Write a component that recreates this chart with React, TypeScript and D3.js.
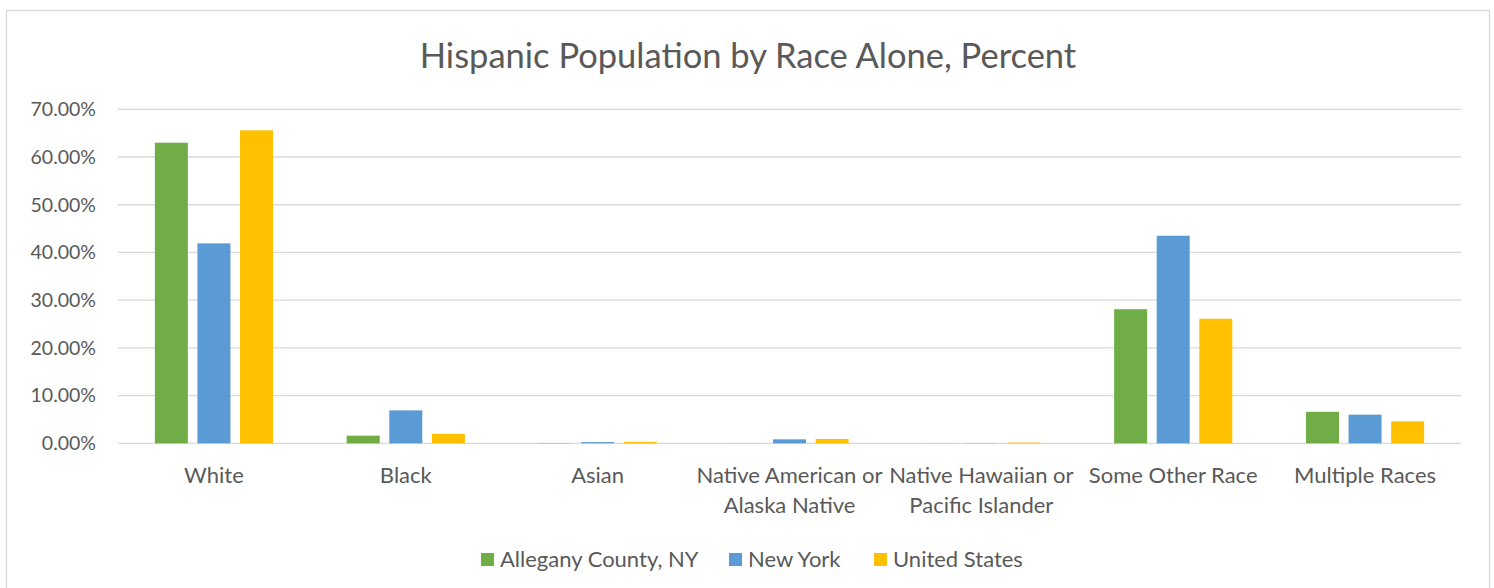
import React from "react";
import * as d3 from "d3";

const categories: string[][] = [
  ["White"],
  ["Black"],
  ["Asian"],
  ["Native American or", "Alaska Native"],
  ["Native Hawaiian or", "Pacific Islander"],
  ["Some Other Race"],
  ["Multiple Races"],
];
const seriesNames = ["Allegany County, NY", "New York", "United States"];
const seriesColors = ["#70AD47", "#5B9BD5", "#FFC000"];
const allegany = [0.63, 0.016, 0.0005, 0.0003, 0.0002, 0.281, 0.066];
const newYork = [0.419, 0.069, 0.0025, 0.0083, 0.0004, 0.435, 0.06];
const unitedStates = [0.656, 0.02, 0.003, 0.009, 0.0015, 0.261, 0.046];
const yTicks = [0, 0.1, 0.2, 0.3, 0.4, 0.5, 0.6, 0.7];
const title = "Hispanic Population by Race Alone, Percent";

const W = 1494;
const H = 588;
const FONT = "Lato, 'Open Sans', sans-serif";
const TXT = "#595959";

export default function App() {
  const values = [allegany, newYork, unitedStates];
  const keys = categories.map((c) => c.join(" "));
  const x = d3.scaleBand<string>().domain(keys).range([118, 1461]).padding(0);
  const xi = d3
    .scaleBand<string>()
    .domain(seriesNames)
    .range([0, x.bandwidth()])
    .paddingInner(0.225)
    .paddingOuter(0.865);
  const y = d3.scaleLinear().domain([0, 0.7]).range([443.3, 109.3]);
  const fmt = d3.format(".2%");
  const legendStarts = [481, 729, 874];

  return (
    <svg
      width={W}
      height={H}
      style={{ position: "absolute", left: 0, top: 0, background: "#fff" }}
      fontFamily={FONT}
    >
      <rect x={0} y={0} width={W} height={H} fill="#fff" />
      <rect x={6.5} y={10.5} width={1483} height={620} fill="none" stroke="#d9d9d9" strokeWidth={1.3} />
      <text x={748} y={67.5} textAnchor="middle" fontSize={34.5} fill={TXT}>
        {title}
      </text>
      {yTicks.map((t) => (
        <g key={t}>
          <line x1={118} x2={1461} y1={y(t)} y2={y(t)} stroke="#d9d9d9" strokeWidth={1.3} />
          <text x={96} y={y(t)} dy="0.35em" textAnchor="end" fontSize={19.5} fill={TXT}>
            {fmt(t)}
          </text>
        </g>
      ))}
      {keys.map((k, ci) => (
        <g key={k} transform={`translate(${x(k)},0)`}>
          {seriesNames.map((s, si) => {
            const v = values[si][ci];
            return (
              <rect
                key={s}
                x={xi(s)}
                y={y(v)}
                width={xi.bandwidth()}
                height={y(0) - y(v)}
                fill={seriesColors[si]}
              />
            );
          })}
          <text textAnchor="middle" fontSize={22} fill={TXT}>
            {categories[ci].map((line, li) => (
              <tspan key={li} x={x.bandwidth() / 2} y={483 + li * 30}>
                {line}
              </tspan>
            ))}
          </text>
        </g>
      ))}
      {seriesNames.map((s, si) => (
        <g key={s}>
          <rect x={legendStarts[si]} y={553} width={13} height={13} fill={seriesColors[si]} />
          <text x={legendStarts[si] + 19} y={567} fontSize={22} fill={TXT}>
            {s}
          </text>
        </g>
      ))}
    </svg>
  );
}
